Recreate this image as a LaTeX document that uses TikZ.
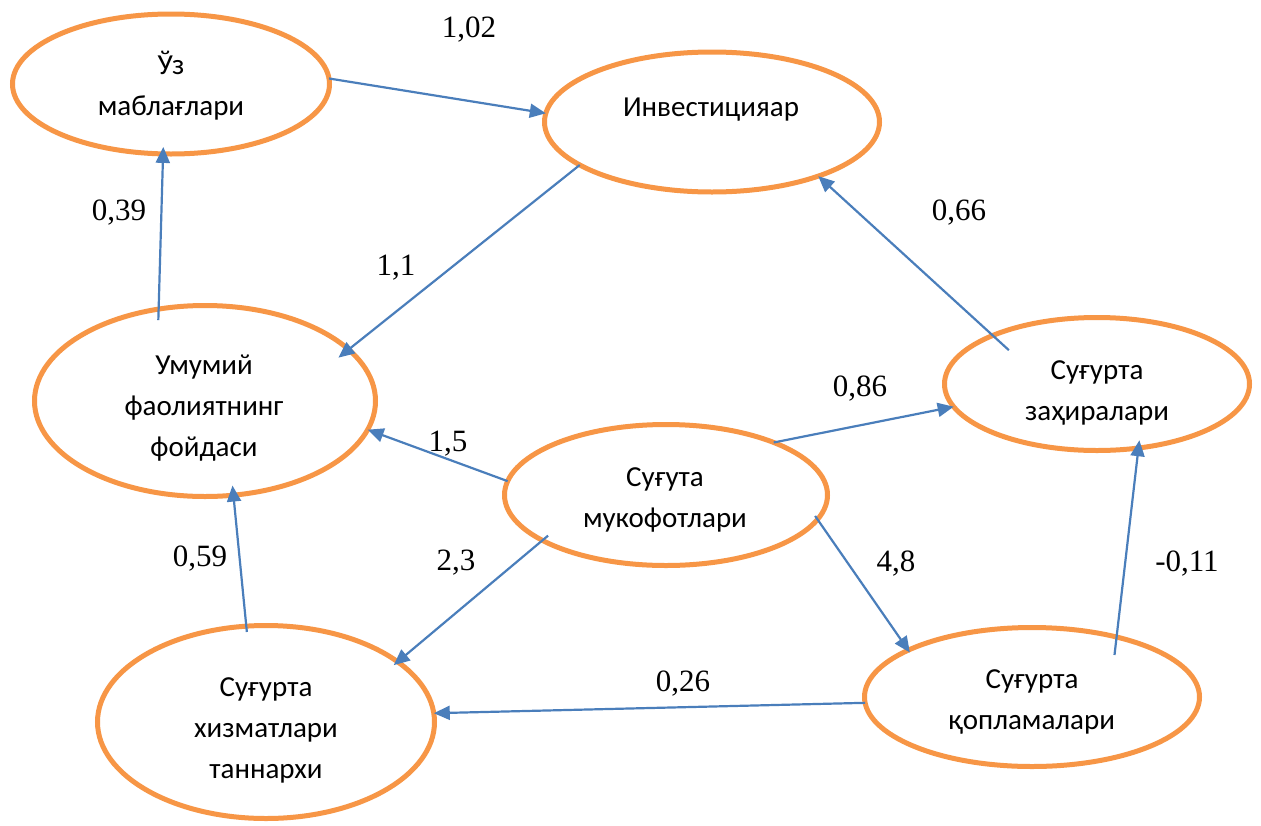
\documentclass[tikz,border=0pt]{standalone}
\usepackage{fontspec}
\setmainfont{Liberation Serif}
\newfontfamily\calfont{Carlito}
\usetikzlibrary{arrows.meta,shapes.geometric,calc}
\definecolor{ellor}{RGB}{247,150,70}
\definecolor{arrbl}{RGB}{74,126,187}
\begin{document}
\begin{tikzpicture}[x=1pt,y=-1pt,
  ell/.style={ellipse, draw=ellor, line width=5pt, inner sep=0pt, outer sep=0pt, fill=white},
  txt/.style={font=\calfont\fontsize{29}{41}\selectfont, align=center, inner sep=0pt},
  num/.style={font=\fontsize{31}{36}\selectfont, inner sep=0pt},
  arr/.style={draw=arrbl, line width=2.2pt, -{Triangle[length=16pt,width=14pt]}}]
\useasboundingbox (0,0) rectangle (1261,825);
% ellipses
\node[ell, minimum width=317pt, minimum height=140pt] (A) at (171,84) {};
\node[ell, minimum width=335pt, minimum height=140pt] (B) at (712,122) {};
\node[ell, minimum width=341pt, minimum height=191pt] (C) at (205,401) {};
\node[ell, minimum width=305pt, minimum height=133pt] (D) at (1097,384) {};
\node[ell, minimum width=323pt, minimum height=141pt] (E) at (666,495) {};
\node[ell, minimum width=337pt, minimum height=193pt] (F) at (266,722) {};
\node[ell, minimum width=335pt, minimum height=139pt] (G) at (1032,697) {};
% texts
\node[txt] (At) at (171,86) {Ўз\\маблағлари};
\node[txt] (Bt) at (711,110) {Инвестицияар};
\node[txt] (Ct) at (204,408) {Умумий\\фаолиятнинг\\фойдаси};
\node[txt] (Dt) at (1097,393) {Суғурта\\заҳиралари};
\node[txt] (Et) at (665,500) {Суғута\\мукофотлари};
\node[txt] (Ft) at (266,730) {Суғурта\\хизматлари\\таннархи};
\node[txt] (Gt) at (1032,702) {Суғурта\\қопламалари};
% connectors
\draw[arr] (A.2) -- (B.177);
\draw[arr] (B.198) -- ($(C.center)!0.905!(C.18)$);
\draw[arr] ($(C.center)!0.89!(C.120)$) -- ($(A.center)!0.9!(A.263)$);
\draw[arr] ($(D.center)!0.77!(D.159)$) -- (B.333);
\draw[arr] (E.175) -- (C.350);
\draw[arr] (E.26) -- (D.189);
\draw[arr] ($(E.center)!0.93!(E.199)$) -- ($(F.center)!0.96!(F.24)$);
\draw[arr] ($(E.center)!0.97!(E.352)$) -- ($(G.center)!0.97!(G.160)$);
\draw[arr] ($(F.center)!0.94!(F.102)$) -- ($(C.center)!0.9!(C.288)$);
\draw[arr] (G.182) -- (F.3);
\draw[arr] ($(G.center)!0.78!(G.27)$) -- ($(D.center)!0.89!(D.307)$);
% labels
\node[num] (l102) at (469,30) {1,02};
\node[num] (l39) at (119,213) {0,39};
\node[num] (l11) at (396,268) {1,1};
\node[num] (l66) at (959,213) {0,66};
\node[num] (l86) at (860,389) {0,86};
\node[num] (l15) at (448,444) {1,5};
\node[num] (l23) at (456,563) {2,3};
\node[num] (l48) at (896,564) {4,8};
\node[num] (l59) at (200,559) {0,59};
\node[num] (l011) at (1187,564) {-0,11};
\node[num] (l26) at (683,684) {0,26};
\end{tikzpicture}
\end{document}
